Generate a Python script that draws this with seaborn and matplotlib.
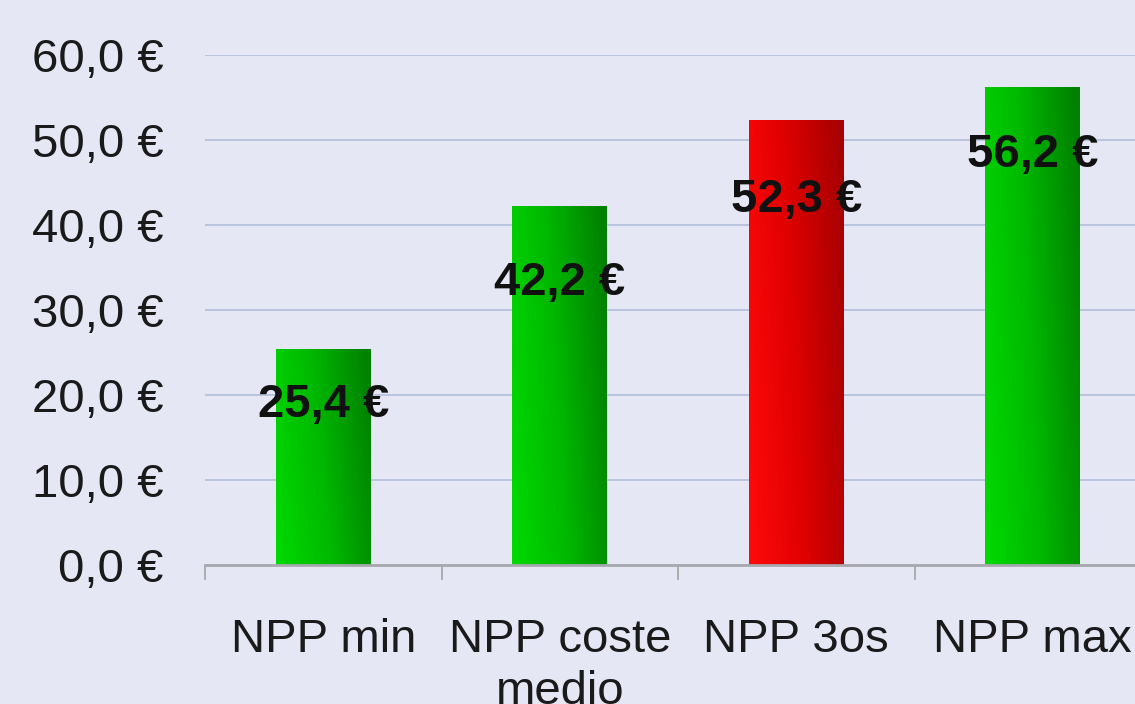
import numpy as np
import pandas as pd
import seaborn as sns
import matplotlib.pyplot as plt
from matplotlib.colors import LinearSegmentedColormap
from matplotlib.ticker import FuncFormatter, FixedLocator

categories = ['NPP min', 'NPP coste\nmedio', 'NPP 3os', 'NPP max']
values = [25.4, 42.2, 52.3, 56.2]
bar_kind = ['green', 'green', 'red', 'green']
y_ticks = [0, 10, 20, 30, 40, 50, 60]
# how far below the top of each bar the value label sits (data units)
label_drop = [6.6, 9.0, 9.4, 8.0]

sns.set_style('white')
plt.rcParams['font.family'] = ['Liberation Sans', 'DejaVu Sans']

df = pd.DataFrame({'cat': categories, 'val': values})

fig = plt.figure(figsize=(11.35, 7.04), dpi=100, facecolor='#e5e7f4')
ax = fig.add_axes([205 / 1135, 139 / 704, 946 / 1135, 510 / 704])
ax.set_facecolor('none')

sns.barplot(data=df, x='cat', y='val', width=0.4, color='green', ax=ax, zorder=3)

cmaps = {
    'green': LinearSegmentedColormap.from_list('g', ['#00da00', '#00b800', '#008200']),
    'red': LinearSegmentedColormap.from_list('r', ['#ff0a0a', '#e00000', '#a80000']),
}
# horizontal gradient with a slight darkening towards the top
gx = np.linspace(0, 1, 256)
gy = np.linspace(0, 1, 64)[:, None]
grad = np.clip(gx[None, :] * 0.85 + gy * 0.2, 0, 1)
for patch, kind in zip(ax.patches, bar_kind):
    x0, y0 = patch.get_x(), patch.get_y()
    w, h = patch.get_width(), patch.get_height()
    patch.set_facecolor('none')
    patch.set_edgecolor('none')
    im = ax.imshow(grad, cmap=cmaps[kind], aspect='auto', extent=[x0, x0 + w, y0, y0 + h],
                   origin='lower', zorder=3, interpolation='bilinear', vmin=0, vmax=1)
    im.set_clip_path(patch)

for i, (v, d) in enumerate(zip(values, label_drop)):
    ax.text(i, v - d, f'{v:.1f} €'.replace('.', ','), ha='center', va='center',
            fontsize=34, fontweight='bold', color='#111111', zorder=5)

ax.set_xlim(-0.5, 3.5)
ax.set_ylim(0, 60)
ax.yaxis.set_major_locator(FixedLocator(y_ticks))
ax.yaxis.set_major_formatter(FuncFormatter(lambda v, p: f'{v:.1f} €'.replace('.', ',')))
ax.grid(axis='y', color='#bac4de', linewidth=1.4, zorder=1)
ax.set_axisbelow(True)

for s in ['top', 'right', 'left']:
    ax.spines[s].set_visible(False)
ax.spines['bottom'].set_color('#a8a8ae')
ax.spines['bottom'].set_linewidth(2)
ax.spines['bottom'].set_zorder(4)

ax.set_xticks(np.arange(-0.5, 4, 1), minor=True)
ax.tick_params(axis='x', which='minor', bottom=True, length=11, width=1.3, color='#a8a8ae')
ax.tick_params(axis='x', which='major', bottom=False, length=0, pad=38, labelsize=34, labelcolor='#1a1a1a')
ax.tick_params(axis='y', left=False, length=0, pad=30, labelsize=34, labelcolor='#1a1a1a')
for t in ax.get_xticklabels():
    t.set_linespacing(1.25)
ax.set_xlabel('')
ax.set_ylabel('')

fig.savefig('out.png', dpi=100, facecolor=fig.get_facecolor())
